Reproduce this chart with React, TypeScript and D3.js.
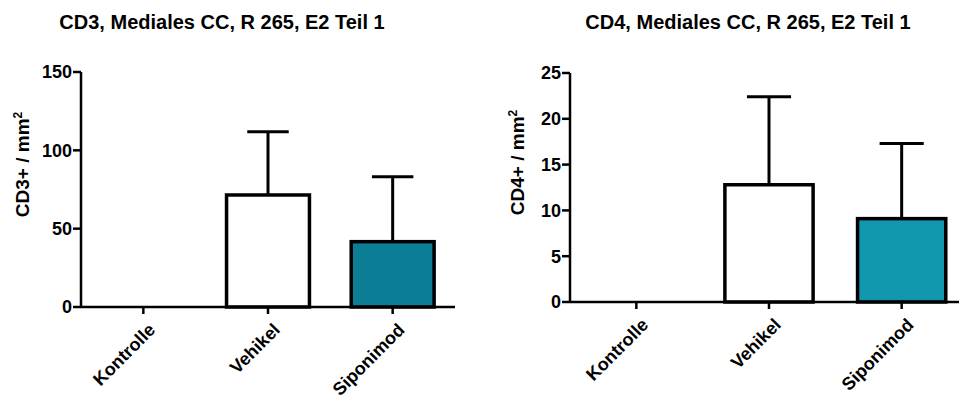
import React from "react";
import * as d3 from "d3";

const groups = ["Kontrolle", "Vehikel", "Siponimod"];

const cd3Means = [0, 71.5, 41.7];
const cd3Sd = [0, 40.4, 41.5];
const cd3Ticks = [0, 50, 100, 150];

const cd4Means = [0, 12.8, 9.1];
const cd4Sd = [0, 9.6, 8.2];
const cd4Ticks = [0, 5, 10, 15, 20, 25];

const panels = [
  {
    title: "CD3, Mediales CC, R 265, E2 Teil 1",
    label: "CD3+ / mm",
    means: cd3Means,
    sd: cd3Sd,
    ticks: cd3Ticks,
    max: 150,
    fill: "#0b7d95",
    x: [81, 455],
    y: [307, 72],
    titleX: 222,
    labelX: 29,
  },
  {
    title: "CD4, Mediales CC, R 265, E2 Teil 1",
    label: "CD4+ / mm",
    means: cd4Means,
    sd: cd4Sd,
    ticks: cd4Ticks,
    max: 25,
    fill: "#1297b0",
    x: [570, 968],
    y: [302, 73],
    titleX: 748,
    labelX: 524,
  },
];

const FONT = "'Liberation Sans', Arial, sans-serif";

const drawPanel = (svg, p) => {
  const g = svg.append("g");
  const x = d3.scaleBand().domain(groups).range(p.x).paddingInner(0.335).paddingOuter(0.1675);
  const y = d3.scaleLinear().domain([0, p.max]).range(p.y);
  const x0 = p.x[0];
  const y0 = y(0);

  // title
  g.append("text")
    .attr("x", p.titleX)
    .attr("y", 29)
    .attr("text-anchor", "middle")
    .style("font", `bold 20px ${FONT}`)
    .text(p.title);

  // y label
  const lab = g.append("text")
    .attr("transform", `translate(${p.labelX}, ${(p.y[0] + p.y[1]) / 2 - 25}) rotate(-90)`)
    .attr("text-anchor", "middle")
    .style("font", `bold 19px ${FONT}`);
  lab.append("tspan").text(p.label);
  lab.append("tspan").attr("dy", -7).style("font-size", "12px").text("2");

  const rows = groups.map((name, i) => ({ name, mean: p.means[i], sd: p.sd[i] }));

  // error bars (upper only)
  const err = g.selectAll(".err").data(rows.filter(d => d.mean > 0)).enter().append("g");
  err.append("line")
    .attr("x1", d => x(d.name) + x.bandwidth() / 2)
    .attr("x2", d => x(d.name) + x.bandwidth() / 2)
    .attr("y1", d => y(d.mean))
    .attr("y2", d => y(d.mean + d.sd))
    .attr("stroke", "black")
    .attr("stroke-width", 3);
  err.append("line")
    .attr("x1", d => x(d.name) + x.bandwidth() * 0.25)
    .attr("x2", d => x(d.name) + x.bandwidth() * 0.75)
    .attr("y1", d => y(d.mean + d.sd))
    .attr("y2", d => y(d.mean + d.sd))
    .attr("stroke", "black")
    .attr("stroke-width", 3);

  // bars
  g.selectAll(".bar").data(rows.filter(d => d.mean > 0)).enter()
    .append("rect")
    .attr("x", d => x(d.name))
    .attr("y", d => y(d.mean))
    .attr("width", x.bandwidth())
    .attr("height", d => y0 - y(d.mean))
    .attr("fill", d => (d.name === "Siponimod" ? p.fill : "white"))
    .attr("stroke", "black")
    .attr("stroke-width", 3.5);

  // y axis
  g.append("line")
    .attr("x1", x0).attr("x2", x0)
    .attr("y1", y(p.max)).attr("y2", y0 + 1)
    .attr("stroke", "black").attr("stroke-width", 2.5);
  g.selectAll(".yt").data(p.ticks).enter().append("line")
    .attr("x1", x0 - 8).attr("x2", x0)
    .attr("y1", d => y(d)).attr("y2", d => y(d))
    .attr("stroke", "black").attr("stroke-width", 2.5);
  g.selectAll(".yl").data(p.ticks).enter().append("text")
    .attr("x", x0 - 9)
    .attr("y", d => y(d))
    .attr("dy", "0.36em")
    .attr("text-anchor", "end")
    .style("font", `bold 18px ${FONT}`)
    .text(d => d);

  // x axis
  g.append("line")
    .attr("x1", x0).attr("x2", p.x[1])
    .attr("y1", y0).attr("y2", y0)
    .attr("stroke", "black").attr("stroke-width", 2.5);
  g.selectAll(".xt").data(groups).enter().append("line")
    .attr("x1", d => x(d) + x.bandwidth() / 2)
    .attr("x2", d => x(d) + x.bandwidth() / 2)
    .attr("y1", y0).attr("y2", y0 + 7)
    .attr("stroke", "black").attr("stroke-width", 2.5);
  g.selectAll(".xl").data(groups).enter().append("text")
    .attr("transform", d => `translate(${x(d) + x.bandwidth() / 2 + 13}, ${y0 + 24}) rotate(-45)`)
    .attr("text-anchor", "end")
    .style("font", `bold 18px ${FONT}`)
    .text(d => d);
};

const App = () => {
  const ref = React.useRef(null);

  React.useEffect(() => {
    const svg = d3.select(ref.current);
    svg.selectAll("*").remove();
    panels.forEach(p => drawPanel(svg, p));
  }, []);

  return (
    <svg
      ref={ref}
      width={959}
      height={401}
      style={{ position: "absolute", left: 0, top: 0, background: "white" }}
    />
  );
};

export default App;
